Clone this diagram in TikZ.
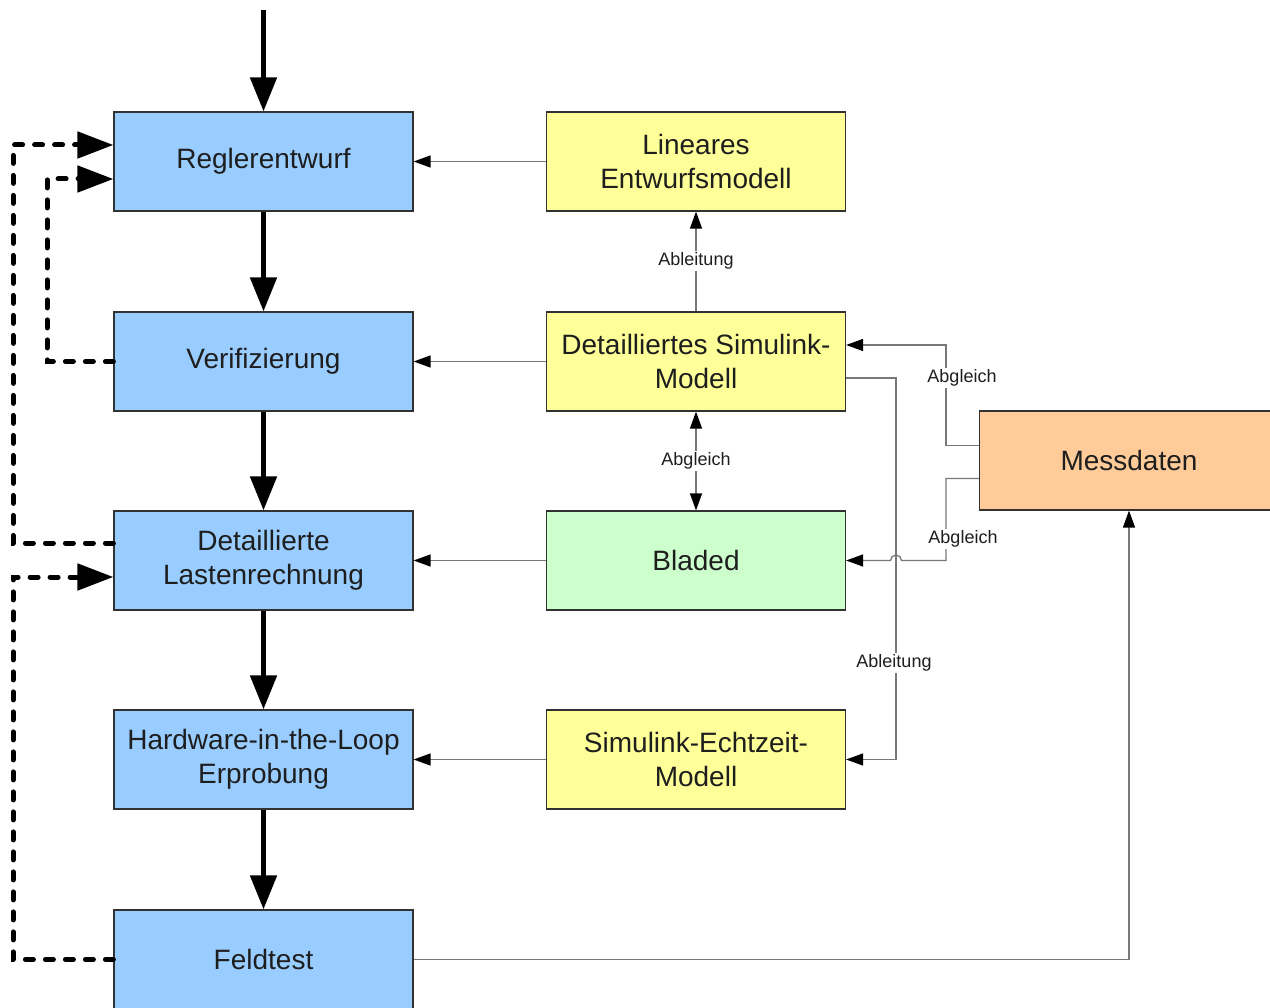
\documentclass[tikz,border=0pt]{standalone}
\usepackage{fontspec}
\setmainfont{Liberation Sans}
\usetikzlibrary{arrows.meta}
\definecolor{bluebox}{RGB}{153,204,255}
\definecolor{yellowbox}{RGB}{255,255,153}
\definecolor{greenbox}{RGB}{204,255,204}
\definecolor{orangebox}{RGB}{255,204,153}
\definecolor{borderc}{RGB}{50,50,50}
\definecolor{thinc}{RGB}{120,120,120}
\definecolor{textc}{RGB}{30,30,30}
\begin{document}
\begin{tikzpicture}[x=1pt,y=-1pt,
  box/.style={draw=borderc,line width=1.2pt,minimum width=299pt,minimum height=99pt,inner sep=0pt,align=center,text=textc,font=\fontsize{28}{34}\selectfont},
  blue/.style={box,fill=bluebox},
  yel/.style={box,fill=yellowbox},
  thickarrow/.style={line width=5pt,-{Triangle[length=34pt,width=26pt]}},
  dasharrow/.style={line width=5pt,line cap=round,dash pattern=on 8pt off 12pt,-{Triangle[length=36pt,width=26pt]}},
  thinarrow/.style={draw=thinc,line width=1.3pt,-{Triangle[length=17pt,width=12pt,fill=black,color=black]}},
  thindouble/.style={draw=thinc,line width=1.3pt,{Triangle[length=17pt,width=12pt,fill=black,color=black]}-{Triangle[length=17pt,width=12pt,fill=black,color=black]}},
  lbl/.style={fill=white,inner sep=2pt,text=textc,font=\fontsize{18}{22}\selectfont}
]
\useasboundingbox (0,0) rectangle (1270,1008);
\fill[white] (0,0) rectangle (1270,1008);

% blue column
\node[blue] (regl) at (263.5,161.5) {Reglerentwurf};
\node[blue] (veri) at (263.5,361.5) {Verifizierung};
\node[blue] (last) at (263.5,560.5) {Detaillierte\\Lastenrechnung};
\node[blue] (hil)  at (263.5,759.5) {Hardware-in-the-Loop\\Erprobung};
\node[blue] (feld) at (263.5,959.5) {Feldtest};

% right column
\node[yel] (lin) at (696,161.5) {Lineares\\Entwurfsmodell};
\node[yel] (det) at (696,361.5) {Detailliertes Simulink-\\Modell};
\node[box,fill=greenbox] (bla) at (696,560.5) {Bladed};
\node[yel] (sim) at (696,759.5) {Simulink-Echtzeit-\\Modell};
\node[box,fill=orangebox] (mess) at (1129,460.5) {Messdaten};

% thick main flow
\coordinate (start) at (263.5,10);
\draw[thickarrow] (start) -- (regl.north);
\draw[thickarrow] (regl.south) -- (veri.north);
\draw[thickarrow] (veri.south) -- (last.north);
\draw[thickarrow] (last.south) -- (hil.north);
\draw[thickarrow] (hil.south) -- (feld.north);

% dashed feedback
\draw[dasharrow] (veri.west) -- (47,361.5) -- (47,179) -- ([yshift=-17.5pt]regl.west);
\draw[dasharrow] ([yshift=17.5pt]last.west) -- (13,543) -- (13,145) -- ([yshift=16.5pt]regl.west);
\draw[dasharrow] (feld.west) -- (13,959.5) -- (13,577) -- ([yshift=-16.5pt]last.west);

% thin connectors to blue boxes
\draw[thinarrow] (lin.west) -- (regl.east);
\draw[thinarrow] (det.west) -- (veri.east);
\draw[thinarrow] (bla.west) -- (last.east);
\draw[thinarrow] (sim.west) -- (hil.east);

% Ableitung det -> lin
\draw[thinarrow] (det.north) -- (lin.south);
\node[lbl] (lab0) at (696,261) {Ableitung};
% Abgleich det <-> bladed
\draw[thindouble] (det.south) -- (bla.north);
\node[lbl] (lab4) at (696,461) {Abgleich};

% Messdaten -> det
\draw[thinarrow] ([yshift=15pt]mess.west) -- (946,445.5) -- (946,345) -- ([yshift=16.5pt]det.east);
\node[lbl] (lab1) at (962,378) {Abgleich};

% det -> sim (Ableitung)
\draw[thinarrow] ([yshift=-16.5pt]det.east) -- (896,378) -- (896,759.5) -- (sim.east);
\node[lbl] (lab2) at (894,663) {Ableitung};

% Messdaten -> Bladed with hop
\draw[thinarrow] ([yshift=-18pt]mess.west) -- (946,478.5) -- (946,560.5) -- (901.5,560.5)
  arc[start angle=0,end angle=180,radius=5.5pt] -- (bla.east);
\node[lbl] (lab3) at (963,539) {Abgleich};

% Feldtest -> Messdaten
\draw[thinarrow] (feld.east) -- (1129,959.5) -- (mess.south);
\end{tikzpicture}
\end{document}
